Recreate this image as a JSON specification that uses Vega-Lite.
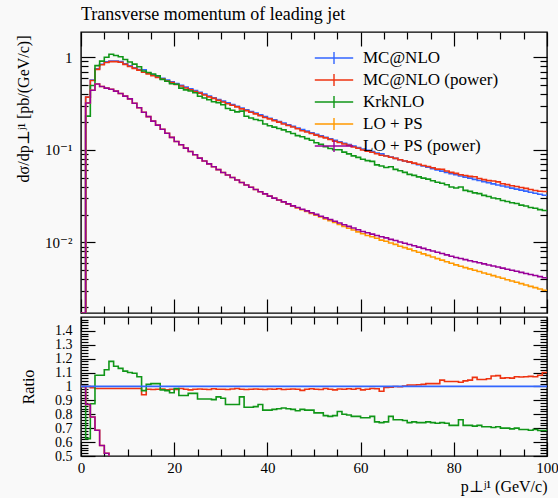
{
  "$schema": "https://vega.github.io/schema/vega-lite/v6.json",
  "background": "#f9f9f9",
  "padding": {"left": 14, "top": 5, "right": 0, "bottom": 3},
  "config": {
    "view": {"stroke": "#000", "strokeWidth": 1.4},
    "font": "Liberation Serif, DejaVu Serif",
    "axis": {"labelFont": "Liberation Serif, DejaVu Serif", "titleFont": "Liberation Serif, DejaVu Serif", "labelFontSize": 15, "titleFontSize": 16, "labelColor": "#000", "titleColor": "#000", "titleFontWeight": "normal", "tickColor": "#000", "tickWidth": 1.2, "domain": false, "grid": false, "labelOverlap": false}
  },
  "datasets": {
    "main": [
      {"x":0,"mc":0,"mcp":0,"krk":0,"lo":0,"lop":0},
      {"x":1,"mc":0.37,"mcp":0.37,"krk":0.231,"lo":0.32,"lop":0.32},
      {"x":2,"mc":0.565,"mcp":0.559,"krk":0.494,"lo":0.44,"lop":0.44},
      {"x":3,"mc":0.75,"mcp":0.739,"krk":0.81,"lo":0.514,"lop":0.514},
      {"x":4,"mc":0.84,"mcp":0.827,"krk":0.907,"lo":0.483,"lop":0.483},
      {"x":5,"mc":0.89,"mcp":0.877,"krk":0.997,"lo":0.463,"lop":0.463},
      {"x":6,"mc":0.91,"mcp":0.896,"krk":1.074,"lo":0.45,"lop":0.45},
      {"x":7,"mc":0.91,"mcp":0.896,"krk":1.042,"lo":0.43,"lop":0.43},
      {"x":8,"mc":0.895,"mcp":0.882,"krk":1.011,"lo":0.405,"lop":0.405},
      {"x":9,"mc":0.85,"mcp":0.837,"krk":0.944,"lo":0.38,"lop":0.38},
      {"x":10,"mc":0.805,"mcp":0.793,"krk":0.886,"lo":0.355,"lop":0.355},
      {"x":11,"mc":0.7683,"mcp":0.7568,"krk":0.8413,"lo":0.3177,"lop":0.3177},
      {"x":12,"mc":0.7354,"mcp":0.7244,"krk":0.7869,"lo":0.2844,"lop":0.2844},
      {"x":13,"mc":0.732,"mcp":0.688,"krk":0.71,"lo":0.2547,"lop":0.2547},
      {"x":14,"mc":0.6738,"mcp":0.6603,"krk":0.6839,"lo":0.228,"lop":0.228},
      {"x":15,"mc":0.645,"mcp":0.6308,"krk":0.6579,"lo":0.2042,"lop":0.2042},
      {"x":16,"mc":0.6174,"mcp":0.6051,"krk":0.6297,"lo":0.1845,"lop":0.1845},
      {"x":17,"mc":0.591,"mcp":0.5804,"krk":0.5762,"lo":0.1667,"lop":0.1667},
      {"x":18,"mc":0.5657,"mcp":0.5516,"krk":0.5487,"lo":0.1507,"lop":0.1507},
      {"x":19,"mc":0.5415,"mcp":0.5307,"krk":0.5171,"lo":0.1361,"lop":0.1361},
      {"x":20,"mc":0.5183,"mcp":0.5069,"krk":0.5105,"lo":0.123,"lop":0.123},
      {"x":21,"mc":0.4961,"mcp":0.4887,"krk":0.4639,"lo":0.1132,"lop":0.1132},
      {"x":22,"mc":0.4749,"mcp":0.4654,"krk":0.444,"lo":0.1042,"lop":0.1042},
      {"x":23,"mc":0.4546,"mcp":0.4432,"krk":0.4319,"lo":0.0959,"lop":0.0959},
      {"x":24,"mc":0.4351,"mcp":0.4264,"krk":0.4133,"lo":0.0883,"lop":0.0883},
      {"x":25,"mc":0.4165,"mcp":0.409,"krk":0.379,"lo":0.0813,"lop":0.0813},
      {"x":26,"mc":0.3987,"mcp":0.3907,"krk":0.3628,"lo":0.0757,"lop":0.0757},
      {"x":27,"mc":0.3816,"mcp":0.3732,"krk":0.3473,"lo":0.0705,"lop":0.0705},
      {"x":28,"mc":0.3653,"mcp":0.3591,"krk":0.3306,"lo":0.0656,"lop":0.0656},
      {"x":29,"mc":0.3497,"mcp":0.3427,"krk":0.3235,"lo":0.0611,"lop":0.0611},
      {"x":30,"mc":0.3351,"mcp":0.3284,"krk":0.3066,"lo":0.0569,"lop":0.0569},
      {"x":31,"mc":0.3211,"mcp":0.314,"krk":0.2794,"lo":0.0535,"lop":0.0535},
      {"x":32,"mc":0.3077,"mcp":0.3022,"krk":0.2677,"lo":0.0502,"lop":0.0502},
      {"x":33,"mc":0.2949,"mcp":0.2905,"krk":0.2566,"lo":0.0472,"lop":0.0472},
      {"x":34,"mc":0.2826,"mcp":0.2769,"krk":0.2614,"lo":0.0444,"lop":0.0444},
      {"x":35,"mc":0.2708,"mcp":0.2648,"krk":0.2302,"lo":0.0417,"lop":0.0417},
      {"x":36,"mc":0.2595,"mcp":0.2543,"krk":0.2206,"lo":0.0394,"lop":0.0394},
      {"x":37,"mc":0.2487,"mcp":0.2442,"krk":0.2126,"lo":0.0373,"lop":0.0373},
      {"x":38,"mc":0.2383,"mcp":0.2335,"krk":0.2073,"lo":0.0353,"lop":0.0353},
      {"x":39,"mc":0.2284,"mcp":0.2234,"krk":0.1896,"lo":0.0334,"lop":0.0334},
      {"x":40,"mc":0.2194,"mcp":0.2155,"krk":0.1821,"lo":0.0316,"lop":0.0316},
      {"x":41,"mc":0.2107,"mcp":0.2065,"krk":0.1759,"lo":0.03,"lop":0.0301},
      {"x":42,"mc":0.2024,"mcp":0.199,"krk":0.17,"lo":0.0286,"lop":0.0287},
      {"x":43,"mc":0.1944,"mcp":0.1901,"krk":0.1643,"lo":0.0273,"lop":0.0274},
      {"x":44,"mc":0.1867,"mcp":0.183,"krk":0.1568,"lo":0.0259,"lop":0.0261},
      {"x":45,"mc":0.1793,"mcp":0.1761,"krk":0.1497,"lo":0.0246,"lop":0.0248},
      {"x":46,"mc":0.1722,"mcp":0.1688,"krk":0.1421,"lo":0.0235,"lop":0.0238},
      {"x":47,"mc":0.1654,"mcp":0.1608,"krk":0.1381,"lo":0.0225,"lop":0.0228},
      {"x":48,"mc":0.1589,"mcp":0.1557,"krk":0.1319,"lo":0.0216,"lop":0.0219},
      {"x":49,"mc":0.1526,"mcp":0.15,"krk":0.1267,"lo":0.0205,"lop":0.0209},
      {"x":50,"mc":0.1471,"mcp":0.1442,"krk":0.1192,"lo":0.0197,"lop":0.0201},
      {"x":51,"mc":0.1418,"mcp":0.1387,"krk":0.1149,"lo":0.0188,"lop":0.0192},
      {"x":52,"mc":0.1366,"mcp":0.1346,"krk":0.1079,"lo":0.0179,"lop":0.0184},
      {"x":53,"mc":0.1317,"mcp":0.1291,"krk":0.1034,"lo":0.0172,"lop":0.0177},
      {"x":54,"mc":0.1269,"mcp":0.1237,"krk":0.1003,"lo":0.0164,"lop":0.0169},
      {"x":55,"mc":0.1223,"mcp":0.1201,"krk":0.1003,"lo":0.0156,"lop":0.0162},
      {"x":56,"mc":0.1179,"mcp":0.1155,"krk":0.0943,"lo":0.0149,"lop":0.0155},
      {"x":57,"mc":0.1136,"mcp":0.1117,"krk":0.0903,"lo":0.0142,"lop":0.0149},
      {"x":58,"mc":0.1095,"mcp":0.1073,"krk":0.086,"lo":0.0136,"lop":0.0143},
      {"x":59,"mc":0.1055,"mcp":0.1039,"krk":0.0828,"lo":0.013,"lop":0.0137},
      {"x":60,"mc":0.1021,"mcp":0.0995,"krk":0.0791,"lo":0.0124,"lop":0.0131},
      {"x":61,"mc":0.0987,"mcp":0.0967,"krk":0.0765,"lo":0.0119,"lop":0.0127},
      {"x":62,"mc":0.0955,"mcp":0.0941,"krk":0.075,"lo":0.0115,"lop":0.0123},
      {"x":63,"mc":0.0924,"mcp":0.0908,"krk":0.0688,"lo":0.0111,"lop":0.0119},
      {"x":64,"mc":0.0904,"mcp":0.0872,"krk":0.0669,"lo":0.0106,"lop":0.0115},
      {"x":65,"mc":0.0864,"mcp":0.0857,"krk":0.0644,"lo":0.0103,"lop":0.0112},
      {"x":66,"mc":0.0836,"mcp":0.0832,"krk":0.0656,"lo":0.00986,"lop":0.0108},
      {"x":67,"mc":0.0808,"mcp":0.0808,"krk":0.0614,"lo":0.00952,"lop":0.0105},
      {"x":68,"mc":0.0782,"mcp":0.078,"krk":0.0594,"lo":0.00911,"lop":0.0101},
      {"x":69,"mc":0.0756,"mcp":0.0758,"krk":0.0571,"lo":0.00879,"lop":0.00981},
      {"x":70,"mc":0.0734,"mcp":0.0741,"krk":0.0543,"lo":0.00846,"lop":0.0095},
      {"x":71,"mc":0.0711,"mcp":0.0718,"krk":0.053,"lo":0.00813,"lop":0.00919},
      {"x":72,"mc":0.0689,"mcp":0.0697,"krk":0.051,"lo":0.00782,"lop":0.0089},
      {"x":73,"mc":0.0668,"mcp":0.0678,"krk":0.0494,"lo":0.00753,"lop":0.00862},
      {"x":74,"mc":0.0647,"mcp":0.066,"krk":0.0482,"lo":0.00724,"lop":0.00835},
      {"x":75,"mc":0.0627,"mcp":0.064,"krk":0.0464,"lo":0.00696,"lop":0.00808},
      {"x":76,"mc":0.0607,"mcp":0.0619,"krk":0.0446,"lo":0.00669,"lop":0.00782},
      {"x":77,"mc":0.0589,"mcp":0.0616,"krk":0.0436,"lo":0.00644,"lop":0.00758},
      {"x":78,"mc":0.057,"mcp":0.059,"krk":0.0419,"lo":0.00619,"lop":0.00733},
      {"x":79,"mc":0.0552,"mcp":0.0571,"krk":0.0397,"lo":0.00595,"lop":0.0071},
      {"x":80,"mc":0.0538,"mcp":0.0557,"krk":0.0387,"lo":0.00572,"lop":0.00688},
      {"x":81,"mc":0.0522,"mcp":0.0538,"krk":0.0397,"lo":0.00553,"lop":0.0067},
      {"x":82,"mc":0.0507,"mcp":0.0527,"krk":0.0365,"lo":0.00535,"lop":0.00652},
      {"x":83,"mc":0.0494,"mcp":0.0516,"krk":0.0356,"lo":0.00518,"lop":0.00635},
      {"x":84,"mc":0.048,"mcp":0.0511,"krk":0.0343,"lo":0.00501,"lop":0.00619},
      {"x":85,"mc":0.0467,"mcp":0.049,"krk":0.0336,"lo":0.00485,"lop":0.00603},
      {"x":86,"mc":0.0453,"mcp":0.0476,"krk":0.0322,"lo":0.00468,"lop":0.00587},
      {"x":87,"mc":0.0441,"mcp":0.0465,"krk":0.0313,"lo":0.00453,"lop":0.00571},
      {"x":88,"mc":0.0429,"mcp":0.0461,"krk":0.0302,"lo":0.00438,"lop":0.00556},
      {"x":89,"mc":0.0417,"mcp":0.045,"krk":0.0296,"lo":0.00424,"lop":0.00542},
      {"x":90,"mc":0.0406,"mcp":0.043,"krk":0.0284,"lo":0.0041,"lop":0.00528},
      {"x":91,"mc":0.0396,"mcp":0.0421,"krk":0.0277,"lo":0.00396,"lop":0.00514},
      {"x":92,"mc":0.0386,"mcp":0.0409,"krk":0.0268,"lo":0.00383,"lop":0.005},
      {"x":93,"mc":0.0376,"mcp":0.0402,"krk":0.0263,"lo":0.00371,"lop":0.00488},
      {"x":94,"mc":0.0367,"mcp":0.0392,"krk":0.0253,"lo":0.00359,"lop":0.00475},
      {"x":95,"mc":0.0358,"mcp":0.0383,"krk":0.0247,"lo":0.00347,"lop":0.00462},
      {"x":96,"mc":0.0348,"mcp":0.0373,"krk":0.0238,"lo":0.00335,"lop":0.0045},
      {"x":97,"mc":0.0339,"mcp":0.0363,"krk":0.0234,"lo":0.00325,"lop":0.00439},
      {"x":98,"mc":0.0331,"mcp":0.0357,"krk":0.0226,"lo":0.00314,"lop":0.00427},
      {"x":99,"mc":0.0323,"mcp":0.0355,"krk":0.0221,"lo":0.00304,"lop":0.00416},
      {"x":100,"mc":0.0323,"mcp":0.0355,"krk":0.0221,"lo":0.00304,"lop":0.00416}
    ],
    "ratio": [
      {"x":0,"mc":1,"mcp":1,"krk":1,"lo":1,"lop":1},
      {"x":1,"mc":1,"mcp":1,"krk":0.625,"lo":0.87,"lop":0.87},
      {"x":2,"mc":1,"mcp":0.99,"krk":0.875,"lo":0.78,"lop":0.78},
      {"x":3,"mc":1,"mcp":0.985,"krk":1.08,"lo":0.685,"lop":0.685},
      {"x":4,"mc":1,"mcp":0.985,"krk":1.08,"lo":0.575,"lop":0.575},
      {"x":5,"mc":1,"mcp":0.985,"krk":1.12,"lo":0.52,"lop":0.52},
      {"x":6,"mc":1,"mcp":0.985,"krk":1.18,"lo":0.495,"lop":0.495},
      {"x":7,"mc":1,"mcp":0.985,"krk":1.145,"lo":0.473,"lop":0.473},
      {"x":8,"mc":1,"mcp":0.985,"krk":1.13,"lo":0.453,"lop":0.453},
      {"x":9,"mc":1,"mcp":0.985,"krk":1.11,"lo":0.447,"lop":0.447},
      {"x":10,"mc":1,"mcp":0.985,"krk":1.1,"lo":0.441,"lop":0.441},
      {"x":11,"mc":1,"mcp":0.985,"krk":1.095,"lo":0.414,"lop":0.414},
      {"x":12,"mc":1,"mcp":0.985,"krk":1.07,"lo":0.387,"lop":0.387},
      {"x":13,"mc":1,"mcp":0.94,"krk":0.97,"lo":0.348,"lop":0.348},
      {"x":14,"mc":1,"mcp":0.98,"krk":1.015,"lo":0.338,"lop":0.338},
      {"x":15,"mc":1,"mcp":0.978,"krk":1.02,"lo":0.317,"lop":0.317},
      {"x":16,"mc":1,"mcp":0.98,"krk":1.02,"lo":0.299,"lop":0.299},
      {"x":17,"mc":1,"mcp":0.982,"krk":0.975,"lo":0.282,"lop":0.282},
      {"x":18,"mc":1,"mcp":0.975,"krk":0.97,"lo":0.266,"lop":0.266},
      {"x":19,"mc":1,"mcp":0.98,"krk":0.955,"lo":0.251,"lop":0.251},
      {"x":20,"mc":1,"mcp":0.978,"krk":0.985,"lo":0.237,"lop":0.237},
      {"x":21,"mc":1,"mcp":0.985,"krk":0.935,"lo":0.228,"lop":0.228},
      {"x":22,"mc":1,"mcp":0.98,"krk":0.935,"lo":0.219,"lop":0.219},
      {"x":23,"mc":1,"mcp":0.975,"krk":0.95,"lo":0.211,"lop":0.211},
      {"x":24,"mc":1,"mcp":0.98,"krk":0.95,"lo":0.203,"lop":0.203},
      {"x":25,"mc":1,"mcp":0.982,"krk":0.91,"lo":0.195,"lop":0.195},
      {"x":26,"mc":1,"mcp":0.98,"krk":0.91,"lo":0.19,"lop":0.19},
      {"x":27,"mc":1,"mcp":0.978,"krk":0.91,"lo":0.185,"lop":0.185},
      {"x":28,"mc":1,"mcp":0.983,"krk":0.905,"lo":0.18,"lop":0.18},
      {"x":29,"mc":1,"mcp":0.98,"krk":0.925,"lo":0.175,"lop":0.175},
      {"x":30,"mc":1,"mcp":0.98,"krk":0.915,"lo":0.17,"lop":0.17},
      {"x":31,"mc":1,"mcp":0.978,"krk":0.87,"lo":0.167,"lop":0.167},
      {"x":32,"mc":1,"mcp":0.982,"krk":0.87,"lo":0.163,"lop":0.163},
      {"x":33,"mc":1,"mcp":0.985,"krk":0.87,"lo":0.16,"lop":0.16},
      {"x":34,"mc":1,"mcp":0.98,"krk":0.925,"lo":0.157,"lop":0.157},
      {"x":35,"mc":1,"mcp":0.978,"krk":0.85,"lo":0.154,"lop":0.154},
      {"x":36,"mc":1,"mcp":0.98,"krk":0.85,"lo":0.152,"lop":0.152},
      {"x":37,"mc":1,"mcp":0.982,"krk":0.855,"lo":0.15,"lop":0.15},
      {"x":38,"mc":1,"mcp":0.98,"krk":0.87,"lo":0.148,"lop":0.148},
      {"x":39,"mc":1,"mcp":0.978,"krk":0.83,"lo":0.146,"lop":0.146},
      {"x":40,"mc":1,"mcp":0.982,"krk":0.83,"lo":0.144,"lop":0.144},
      {"x":41,"mc":1,"mcp":0.98,"krk":0.835,"lo":0.143,"lop":0.143},
      {"x":42,"mc":1,"mcp":0.983,"krk":0.84,"lo":0.141,"lop":0.142},
      {"x":43,"mc":1,"mcp":0.978,"krk":0.845,"lo":0.14,"lop":0.141},
      {"x":44,"mc":1,"mcp":0.98,"krk":0.84,"lo":0.139,"lop":0.14},
      {"x":45,"mc":1,"mcp":0.982,"krk":0.835,"lo":0.137,"lop":0.138},
      {"x":46,"mc":1,"mcp":0.98,"krk":0.825,"lo":0.136,"lop":0.138},
      {"x":47,"mc":1,"mcp":0.972,"krk":0.835,"lo":0.136,"lop":0.138},
      {"x":48,"mc":1,"mcp":0.98,"krk":0.83,"lo":0.136,"lop":0.138},
      {"x":49,"mc":1,"mcp":0.983,"krk":0.83,"lo":0.134,"lop":0.137},
      {"x":50,"mc":1,"mcp":0.98,"krk":0.81,"lo":0.134,"lop":0.137},
      {"x":51,"mc":1,"mcp":0.978,"krk":0.81,"lo":0.133,"lop":0.135},
      {"x":52,"mc":1,"mcp":0.985,"krk":0.79,"lo":0.131,"lop":0.135},
      {"x":53,"mc":1,"mcp":0.98,"krk":0.785,"lo":0.131,"lop":0.134},
      {"x":54,"mc":1,"mcp":0.975,"krk":0.79,"lo":0.129,"lop":0.133},
      {"x":55,"mc":1,"mcp":0.982,"krk":0.82,"lo":0.128,"lop":0.132},
      {"x":56,"mc":1,"mcp":0.98,"krk":0.8,"lo":0.126,"lop":0.131},
      {"x":57,"mc":1,"mcp":0.983,"krk":0.795,"lo":0.125,"lop":0.131},
      {"x":58,"mc":1,"mcp":0.98,"krk":0.785,"lo":0.124,"lop":0.131},
      {"x":59,"mc":1,"mcp":0.985,"krk":0.785,"lo":0.123,"lop":0.13},
      {"x":60,"mc":1,"mcp":0.975,"krk":0.775,"lo":0.121,"lop":0.128},
      {"x":61,"mc":1,"mcp":0.98,"krk":0.775,"lo":0.121,"lop":0.129},
      {"x":62,"mc":1,"mcp":0.985,"krk":0.785,"lo":0.12,"lop":0.129},
      {"x":63,"mc":1,"mcp":0.983,"krk":0.745,"lo":0.12,"lop":0.129},
      {"x":64,"mc":1,"mcp":0.965,"krk":0.74,"lo":0.117,"lop":0.127},
      {"x":65,"mc":1,"mcp":0.992,"krk":0.745,"lo":0.119,"lop":0.13},
      {"x":66,"mc":1,"mcp":0.995,"krk":0.785,"lo":0.118,"lop":0.129},
      {"x":67,"mc":1,"mcp":1,"krk":0.76,"lo":0.118,"lop":0.13},
      {"x":68,"mc":1,"mcp":0.998,"krk":0.76,"lo":0.116,"lop":0.129},
      {"x":69,"mc":1,"mcp":1.002,"krk":0.755,"lo":0.116,"lop":0.13},
      {"x":70,"mc":1,"mcp":1.01,"krk":0.74,"lo":0.115,"lop":0.129},
      {"x":71,"mc":1,"mcp":1.01,"krk":0.745,"lo":0.114,"lop":0.129},
      {"x":72,"mc":1,"mcp":1.012,"krk":0.74,"lo":0.113,"lop":0.129},
      {"x":73,"mc":1,"mcp":1.015,"krk":0.74,"lo":0.113,"lop":0.129},
      {"x":74,"mc":1,"mcp":1.02,"krk":0.745,"lo":0.112,"lop":0.129},
      {"x":75,"mc":1,"mcp":1.02,"krk":0.74,"lo":0.111,"lop":0.129},
      {"x":76,"mc":1,"mcp":1.02,"krk":0.735,"lo":0.11,"lop":0.129},
      {"x":77,"mc":1,"mcp":1.045,"krk":0.74,"lo":0.109,"lop":0.129},
      {"x":78,"mc":1,"mcp":1.035,"krk":0.735,"lo":0.109,"lop":0.129},
      {"x":79,"mc":1,"mcp":1.035,"krk":0.72,"lo":0.108,"lop":0.129},
      {"x":80,"mc":1,"mcp":1.035,"krk":0.72,"lo":0.106,"lop":0.128},
      {"x":81,"mc":1,"mcp":1.03,"krk":0.76,"lo":0.106,"lop":0.128},
      {"x":82,"mc":1,"mcp":1.04,"krk":0.72,"lo":0.106,"lop":0.129},
      {"x":83,"mc":1,"mcp":1.045,"krk":0.72,"lo":0.105,"lop":0.129},
      {"x":84,"mc":1,"mcp":1.065,"krk":0.715,"lo":0.104,"lop":0.129},
      {"x":85,"mc":1,"mcp":1.05,"krk":0.72,"lo":0.104,"lop":0.129},
      {"x":86,"mc":1,"mcp":1.05,"krk":0.71,"lo":0.103,"lop":0.13},
      {"x":87,"mc":1,"mcp":1.055,"krk":0.71,"lo":0.103,"lop":0.129},
      {"x":88,"mc":1,"mcp":1.075,"krk":0.705,"lo":0.102,"lop":0.13},
      {"x":89,"mc":1,"mcp":1.078,"krk":0.71,"lo":0.102,"lop":0.13},
      {"x":90,"mc":1,"mcp":1.06,"krk":0.7,"lo":0.101,"lop":0.13},
      {"x":91,"mc":1,"mcp":1.062,"krk":0.7,"lo":0.1,"lop":0.13},
      {"x":92,"mc":1,"mcp":1.06,"krk":0.695,"lo":0.099,"lop":0.13},
      {"x":93,"mc":1,"mcp":1.07,"krk":0.7,"lo":0.099,"lop":0.13},
      {"x":94,"mc":1,"mcp":1.068,"krk":0.69,"lo":0.098,"lop":0.129},
      {"x":95,"mc":1,"mcp":1.07,"krk":0.69,"lo":0.097,"lop":0.129},
      {"x":96,"mc":1,"mcp":1.072,"krk":0.685,"lo":0.096,"lop":0.129},
      {"x":97,"mc":1,"mcp":1.07,"krk":0.69,"lo":0.096,"lop":0.13},
      {"x":98,"mc":1,"mcp":1.08,"krk":0.683,"lo":0.095,"lop":0.129},
      {"x":99,"mc":1,"mcp":1.1,"krk":0.683,"lo":0.094,"lop":0.129},
      {"x":100,"mc":1,"mcp":1.1,"krk":0.683,"lo":0.094,"lop":0.129}
    ]
  },
  "spacing": 0,
  "resolve": {"scale": {"color": "independent"}, "legend": {"color": "independent"}},
  "vconcat": [
    {
      "width": 466,
      "height": 281,
      "title": {"text": "Transverse momentum of leading jet", "anchor": "start", "frame": "group", "font": "Liberation Serif", "fontSize": 18, "fontWeight": "normal", "color": "#000", "baseline": "alphabetic", "offset": -7},
      "data": {"name": "main"},
      "transform": [{"fold": ["mc", "mcp", "krk", "lo", "lop"], "as": ["series", "value"]}],
      "layer": [
        {
          "transform": [{"filter": "datum.series === 'mc'"}],
          "mark": {"type": "line", "interpolate": "step-after", "strokeWidth": 1.6, "clip": true, "invalid": "show"},
          "encoding": {
            "x": {"field": "x", "type": "quantitative", "scale": {"domain": [0, 100], "nice": false}, "axis": {"orient": "bottom", "values": [0, 20, 40, 60, 80, 100], "labels": false, "tickSize": -14, "title": null}},
            "y": {"field": "value", "type": "quantitative", "scale": {"type": "log", "domain": [0.00173, 1.87], "clamp": true, "nice": false}, "axis": {"orient": "left", "values": [0.01, 0.1, 1], "tickSize": -14, "labelPadding": 23, "labelExpr": "datum.value >= 0.5 ? '1' : (datum.value >= 0.05 ? '10⁻¹' : '10⁻²')", "title": "dσ/dp⊥ʲ¹ [pb/(GeV/c)]", "titleX": -66, "titleY": 3, "titleAlign": "right", "titleBaseline": "top", "titleAngle": -90}},
            "color": {"field": "series", "type": "nominal", "scale": {"domain": ["mc", "mcp", "krk", "lo", "lop"], "range": ["#3366FF", "#EE3311", "#109618", "#FF9900", "#990099"]},
              "legend": {"orient": "none", "legendX": 244, "legendY": 17, "title": null, "padding": 0, "labelFont": "Liberation Serif", "labelFontSize": 17, "labelColor": "#000", "labelLimit": 300, "symbolType": "M-2.4,0H2.4M0,-0.75V0.75", "symbolSize": 256, "symbolStrokeWidth": 1.4, "symbolFillColor": "transparent", "labelOffset": 20, "rowPadding": 4,
                "labelExpr": "datum.value === 'mc' ? 'MC@NLO' : datum.value === 'mcp' ? 'MC@NLO (power)' : datum.value === 'krk' ? 'KrkNLO' : datum.value === 'lo' ? 'LO + PS' : 'LO + PS (power)'"}}
          }
        },
        {
          "transform": [{"filter": "datum.series === 'mcp'"}],
          "mark": {"type": "line", "interpolate": "step-after", "strokeWidth": 1.6, "clip": true, "invalid": "show"},
          "encoding": {
            "x": {"field": "x", "type": "quantitative", "scale": {"domain": [0, 100], "nice": false}, "axis": {"orient": "bottom", "values": [5, 10, 15, 25, 30, 35, 45, 50, 55, 65, 70, 75, 85, 90, 95], "labels": false, "tickSize": -7, "title": null}},
            "y": {"field": "value", "type": "quantitative", "scale": {"type": "log", "domain": [0.00173, 1.87], "clamp": true, "nice": false}, "axis": {"orient": "left", "values": [0.002, 0.003, 0.004, 0.005, 0.006, 0.007, 0.008, 0.009, 0.02, 0.03, 0.04, 0.05, 0.06, 0.07, 0.08, 0.09, 0.2, 0.3, 0.4, 0.5, 0.6, 0.7, 0.8, 0.9], "labels": false, "tickSize": -7, "title": null}},
            "color": {"field": "series", "type": "nominal"}
          }
        },
        {
          "transform": [{"filter": "datum.series === 'krk'"}],
          "mark": {"type": "line", "interpolate": "step-after", "strokeWidth": 1.6, "clip": true, "invalid": "show"},
          "encoding": {
            "x": {"field": "x", "type": "quantitative", "scale": {"domain": [0, 100], "nice": false}, "axis": {"orient": "top", "values": [0, 20, 40, 60, 80, 100], "labels": false, "tickSize": -14, "title": null}},
            "y": {"field": "value", "type": "quantitative", "scale": {"type": "log", "domain": [0.00173, 1.87], "clamp": true, "nice": false}, "axis": {"orient": "right", "values": [0.01, 0.1, 1], "labels": false, "tickSize": -14, "title": null}},
            "color": {"field": "series", "type": "nominal"}
          }
        },
        {
          "transform": [{"filter": "datum.series === 'lo'"}],
          "mark": {"type": "line", "interpolate": "step-after", "strokeWidth": 1.6, "clip": true, "invalid": "show"},
          "encoding": {
            "x": {"field": "x", "type": "quantitative", "scale": {"domain": [0, 100], "nice": false}, "axis": {"orient": "top", "values": [5, 10, 15, 25, 30, 35, 45, 50, 55, 65, 70, 75, 85, 90, 95], "labels": false, "tickSize": -7, "title": null}},
            "y": {"field": "value", "type": "quantitative", "scale": {"type": "log", "domain": [0.00173, 1.87], "clamp": true, "nice": false}, "axis": {"orient": "right", "values": [0.002, 0.003, 0.004, 0.005, 0.006, 0.007, 0.008, 0.009, 0.02, 0.03, 0.04, 0.05, 0.06, 0.07, 0.08, 0.09, 0.2, 0.3, 0.4, 0.5, 0.6, 0.7, 0.8, 0.9], "labels": false, "tickSize": -7, "title": null}},
            "color": {"field": "series", "type": "nominal"}
          }
        },
        {
          "transform": [{"filter": "datum.series === 'lop'"}],
          "mark": {"type": "line", "interpolate": "step-after", "strokeWidth": 1.6, "clip": true, "invalid": "show"},
          "encoding": {
            "x": {"field": "x", "type": "quantitative", "scale": {"domain": [0, 100], "nice": false}, "axis": null},
            "y": {"field": "value", "type": "quantitative", "scale": {"type": "log", "domain": [0.00173, 1.87], "clamp": true, "nice": false}, "axis": null},
            "color": {"field": "series", "type": "nominal"}
          }
        }
      ],
      "resolve": {"axis": {"x": "independent", "y": "independent"}}
    },
    {
      "width": 466,
      "height": 139,
      "data": {"name": "ratio"},
      "transform": [{"fold": ["mc", "mcp", "krk", "lo", "lop"], "as": ["series", "value"]}],
      "layer": [
        {
          "transform": [{"filter": "datum.series === 'mcp'"}],
          "mark": {"type": "line", "interpolate": "step-after", "strokeWidth": 1.6, "clip": true, "color": "#EE3311"},
          "encoding": {
            "x": {"field": "x", "type": "quantitative", "scale": {"domain": [0, 100], "nice": false}, "axis": {"orient": "bottom", "values": [5, 10, 15, 25, 30, 35, 45, 50, 55, 65, 70, 75, 85, 90, 95], "labels": false, "tickSize": -7, "title": null}},
            "y": {"field": "value", "type": "quantitative", "scale": {"domain": [0.5, 1.499], "nice": false, "zero": false}, "axis": {"orient": "left", "values": [0.52, 0.54, 0.56, 0.58, 0.62, 0.64, 0.66, 0.68, 0.72, 0.74, 0.76, 0.78, 0.82, 0.84, 0.86, 0.88, 0.92, 0.94, 0.96, 0.98, 1.02, 1.04, 1.06, 1.08, 1.12, 1.14, 1.16, 1.18, 1.22, 1.24, 1.26, 1.28, 1.32, 1.34, 1.36, 1.38, 1.42, 1.44, 1.46, 1.48], "labels": false, "tickSize": -7, "title": null}}
          }
        },
        {
          "transform": [{"filter": "datum.series === 'krk'"}],
          "mark": {"type": "line", "interpolate": "step-after", "strokeWidth": 1.6, "clip": true, "color": "#109618"},
          "encoding": {
            "x": {"field": "x", "type": "quantitative", "scale": {"domain": [0, 100], "nice": false}, "axis": {"orient": "top", "values": [0, 20, 40, 60, 80, 100], "labels": false, "tickSize": -14, "title": null}},
            "y": {"field": "value", "type": "quantitative", "scale": {"domain": [0.5, 1.499], "nice": false, "zero": false}, "axis": {"orient": "right", "values": [0.5, 0.6, 0.7, 0.8, 0.9, 1, 1.1, 1.2, 1.3, 1.4], "labels": false, "tickSize": -14, "title": null}}
          }
        },
        {
          "transform": [{"filter": "datum.series === 'lo'"}],
          "mark": {"type": "line", "interpolate": "step-after", "strokeWidth": 1.6, "clip": true, "color": "#FF9900"},
          "encoding": {
            "x": {"field": "x", "type": "quantitative", "scale": {"domain": [0, 100], "nice": false}, "axis": {"orient": "top", "values": [5, 10, 15, 25, 30, 35, 45, 50, 55, 65, 70, 75, 85, 90, 95], "labels": false, "tickSize": -7, "title": null}},
            "y": {"field": "value", "type": "quantitative", "scale": {"domain": [0.5, 1.499], "nice": false, "zero": false}, "axis": {"orient": "right", "values": [0.52, 0.54, 0.56, 0.58, 0.62, 0.64, 0.66, 0.68, 0.72, 0.74, 0.76, 0.78, 0.82, 0.84, 0.86, 0.88, 0.92, 0.94, 0.96, 0.98, 1.02, 1.04, 1.06, 1.08, 1.12, 1.14, 1.16, 1.18, 1.22, 1.24, 1.26, 1.28, 1.32, 1.34, 1.36, 1.38, 1.42, 1.44, 1.46, 1.48], "labels": false, "tickSize": -7, "title": null}}
          }
        },
        {
          "transform": [{"filter": "datum.series === 'lop'"}],
          "mark": {"type": "line", "interpolate": "step-after", "strokeWidth": 1.6, "clip": true, "color": "#990099"},
          "encoding": {
            "x": {"field": "x", "type": "quantitative", "scale": {"domain": [0, 100], "nice": false}, "axis": null},
            "y": {"field": "value", "type": "quantitative", "scale": {"domain": [0.5, 1.499], "nice": false, "zero": false}, "axis": null}
          }
        },
        {
          "transform": [{"filter": "datum.series === 'mc'"}],
          "mark": {"type": "line", "interpolate": "step-after", "strokeWidth": 1.8, "clip": true, "color": "#3366FF"},
          "encoding": {
            "x": {"field": "x", "type": "quantitative", "scale": {"domain": [0, 100], "nice": false}, "axis": {"orient": "bottom", "values": [0, 20, 40, 60, 80, 100], "labelFlush": false, "labelPadding": 18, "tickSize": -14, "title": "p⊥ʲ¹ (GeV/c)", "titleX": 466, "titleY": 35, "titleAlign": "right", "titleAnchor": "end", "titleBaseline": "alphabetic"}},
            "y": {"field": "value", "type": "quantitative", "scale": {"domain": [0.5, 1.499], "nice": false, "zero": false}, "axis": {"orient": "left", "values": [0.5, 0.6, 0.7, 0.8, 0.9, 1, 1.1, 1.2, 1.3, 1.4], "format": "~g", "labelFontSize": 14, "tickSize": -14, "labelPadding": 23, "title": "Ratio", "titleX": -61, "titleY": 69.5, "titleAlign": "center", "titleBaseline": "top", "titleAngle": -90}}
          }
        }
      ],
      "resolve": {"axis": {"x": "independent", "y": "independent"}}
    }
  ]
}
